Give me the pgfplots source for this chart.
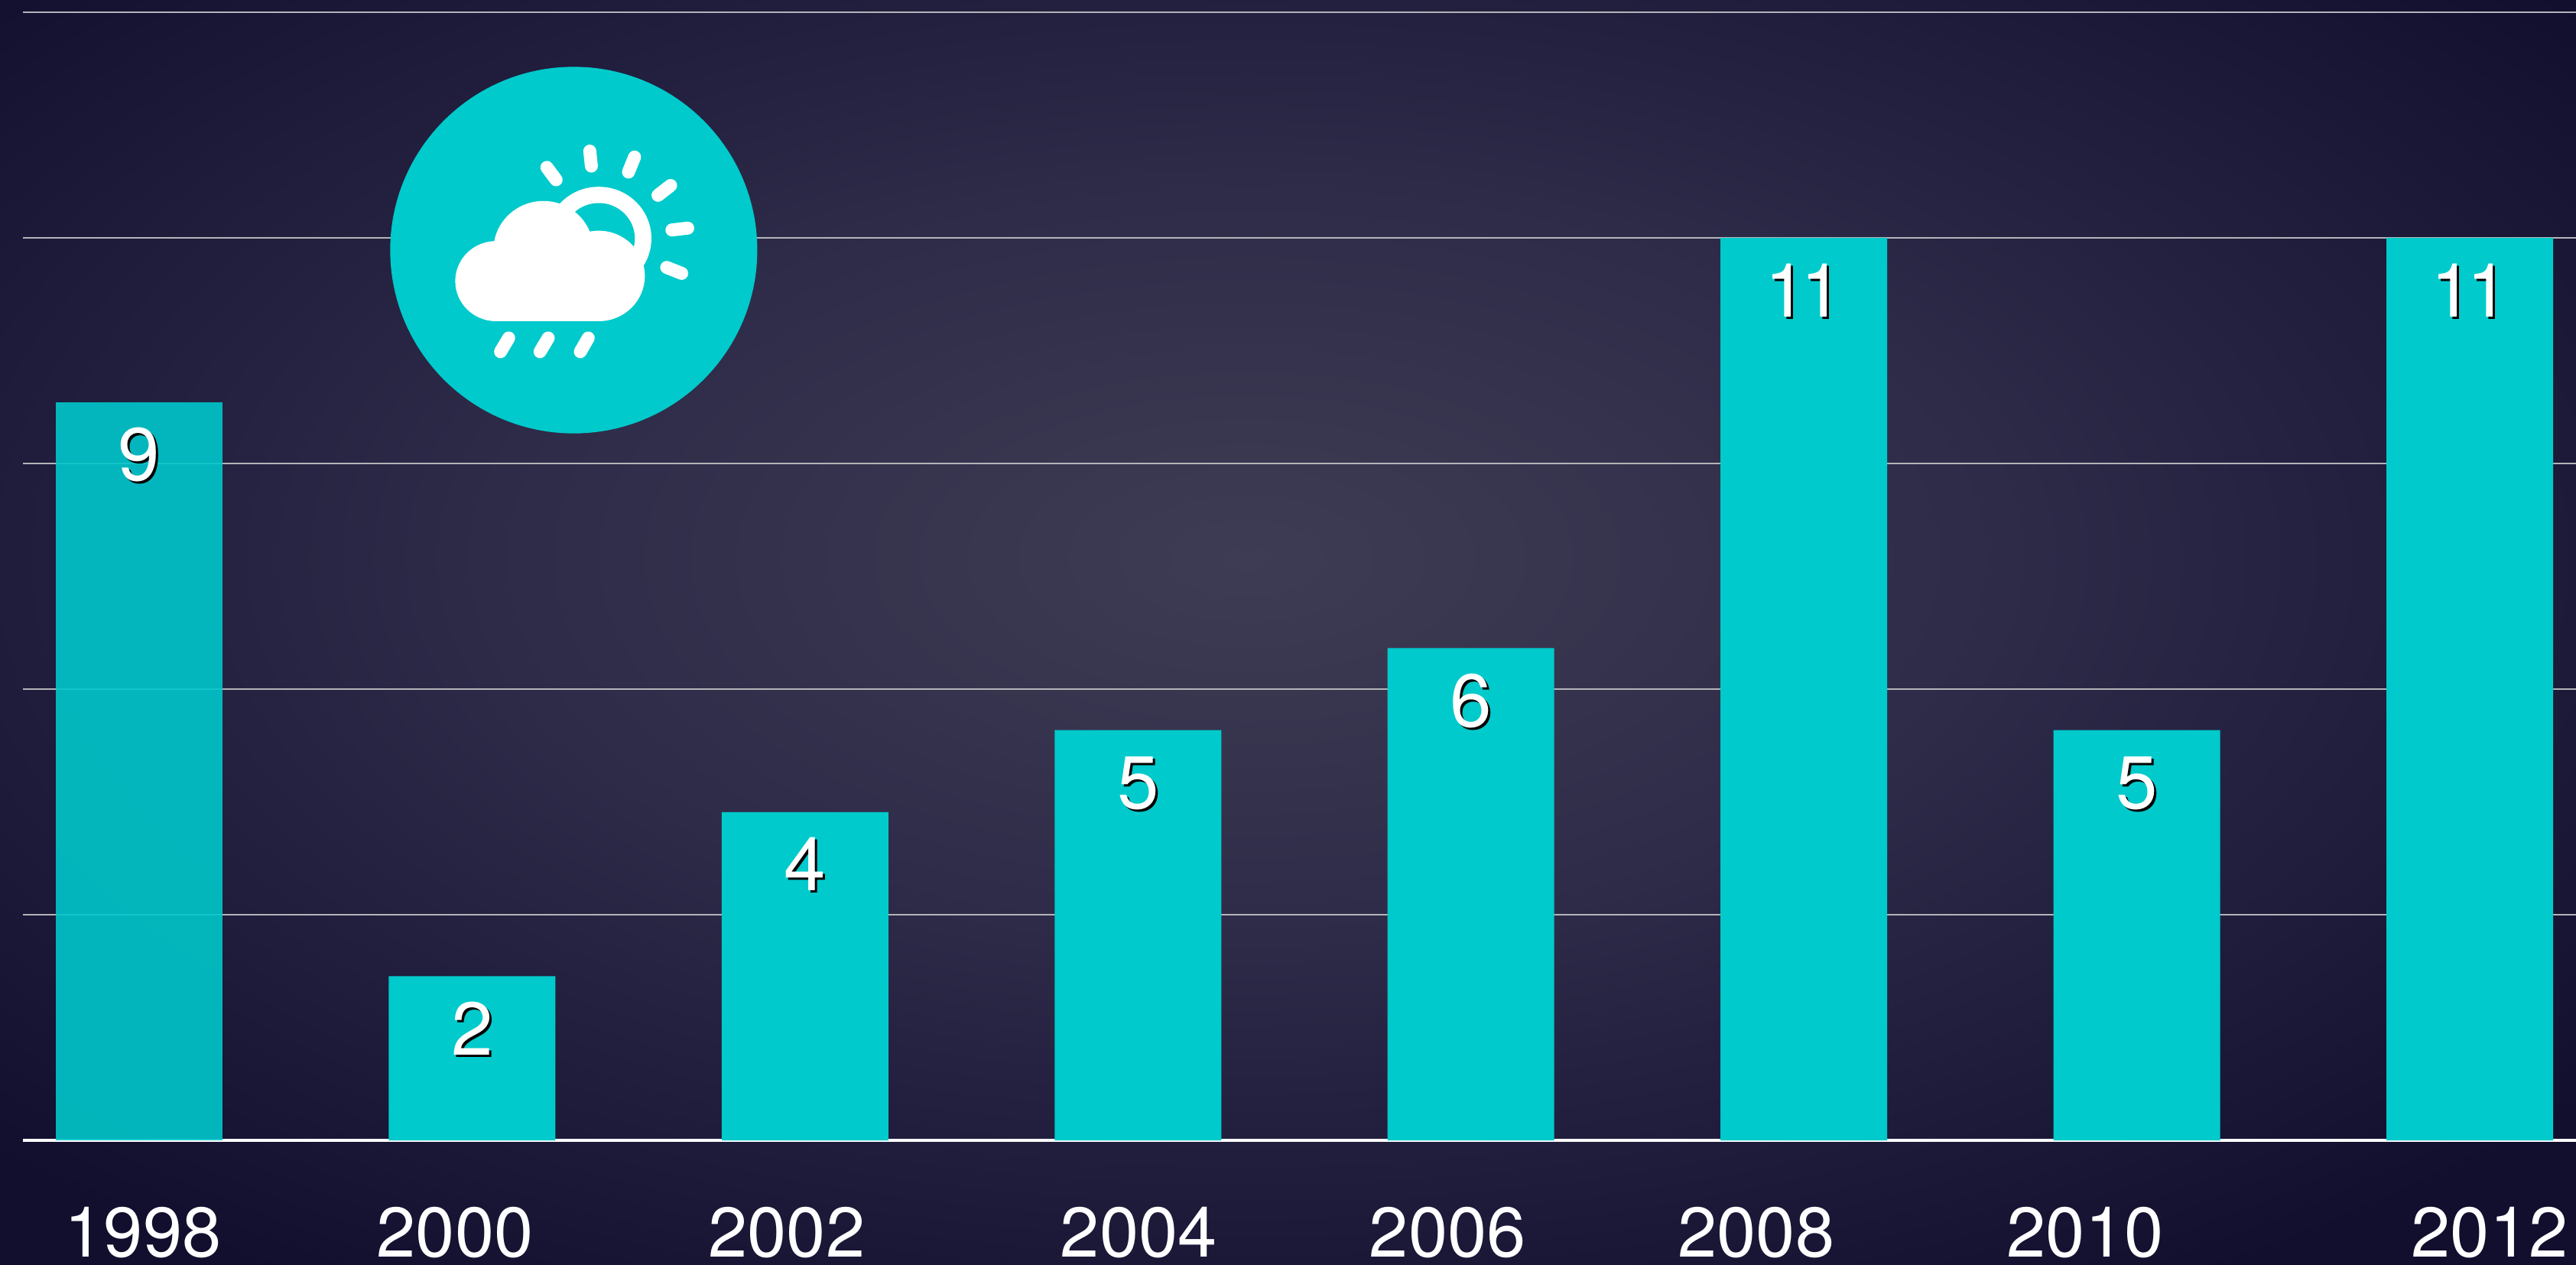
\documentclass[border=0pt]{standalone}
\usepackage{fontspec}
\setmainfont{TeX Gyre Heros}
\usepackage{pgfplots}
\pgfplotsset{compat=1.18}
\definecolor{barteal}{HTML}{00CACB}
\definecolor{barfirst}{HTML}{00C7CB}
\definecolor{gridc}{HTML}{B4B4B8}
\definecolor{bga}{HTML}{3E3B54}
\definecolor{bgb}{HTML}{38354F}
\definecolor{bgc}{HTML}{2E2B49}
\definecolor{bgd}{HTML}{1E1B3B}
\definecolor{bge}{HTML}{110E2E}
\pgfdeclareradialshading{bgshade}{\pgfpoint{0bp}{0bp}}{%
  color(0bp)=(bga);
  color(3bp)=(bgb);
  color(7.5bp)=(bgc);
  color(12.5bp)=(bgd);
  color(17bp)=(bge);
  color(50bp)=(bge)}
\begin{document}
\begin{tikzpicture}
\useasboundingbox (0,0) rectangle (1684.5pt,827pt);
% background
\begin{scope}
\clip (0,0) rectangle (1684.5pt,827pt);
\shade[shading=bgshade] (-845pt,-368pt) rectangle (2475pt,1292pt);
\end{scope}
\begin{axis}[
  at={(15pt,0pt)}, anchor=south west,
  scale only axis, width=1669.5pt, height=827pt,
  xmin=-0.3491, xmax=7.3197, ymin=-1.5195, ymax=13.9,
  axis line style={draw=none},
  axis x line*=bottom, axis y line*=left,
  ytick={2.75,5.5,8.25,11,13.75}, yticklabels={},
  extra y ticks={0}, extra y tick labels={},
  extra y tick style={grid style={draw=white,line width=1.6pt}},
  ymajorgrids, grid style={draw=gridc,line width=1.1pt},
  major tick length=0pt,
  xtick={0.0115,0.9485,1.945,3.002,3.93,4.857,5.845,7.06},
  xticklabels={1998,2000,2002,2004,2006,2008,2010,2012},
  xticklabel style={anchor=base,inner sep=0pt,yshift=5pt,font=\fontsize{46}{50}\selectfont,text=white},
  ybar, bar width=109pt, bar shift=0pt,
  clip=false, axis on top=false,
]
\addplot[fill=barfirst, draw=none, fill opacity=0.9] coordinates {(0,9)};
\addplot[fill=barteal, draw=none] coordinates {(1,2) (2,4) (3,5) (4,6) (5,11) (6,5) (7,11)};
% data labels: shadow then text
\addplot[draw=none, fill=none, forget plot,
  nodes near coords, point meta=y,
  every node near coord/.style={anchor=base,text=black,font=\fontsize{49}{50}\selectfont\addfontfeatures{LetterSpace=-7.4},yshift=-53pt,xshift=1.5pt,/pgf/number format/assume math mode=true}]
  coordinates {(0,9) (1,2) (2,4) (3,5) (4,6) (5,11) (6,5) (7,11)};
\addplot[draw=none, fill=none, forget plot,
  nodes near coords, point meta=y,
  every node near coord/.style={anchor=base,text=white,font=\fontsize{49}{50}\selectfont\addfontfeatures{LetterSpace=-7.4},yshift=-51.5pt,/pgf/number format/assume math mode=true}]
  coordinates {(0,9) (1,2) (2,4) (3,5) (4,6) (5,11) (6,5) (7,11)};
\end{axis}
% weather icon (decorative)
\begin{scope}[shift={(240pt,797pt)},x=0.1722pt,y=-0.1690pt]
\fill[barteal] (785,790) ellipse [x radius=697,y radius=709];
\fill[white] (880,745) circle [radius=200];
\fill[barteal] (880,745) circle [radius=137];
\fill[white] (670,790) circle [radius=190];
\fill[white] (880,890) circle [radius=175];
\fill[white] (490,910) circle [radius=155];
\fill[white] (490,800) rectangle (880,1065);
\draw[white,line width=8.5pt,line cap=round]
  (683,470)--(718,518) (846,407)--(852,465) (1016,430)--(993,488)
  (1153,540)--(1105,578) (1218,705)--(1158,712) (1138,857)--(1195,880)
  (538,1130)--(507,1183) (688,1130)--(657,1183) (840,1130)--(810,1183);
\end{scope}
\end{tikzpicture}
\end{document}
